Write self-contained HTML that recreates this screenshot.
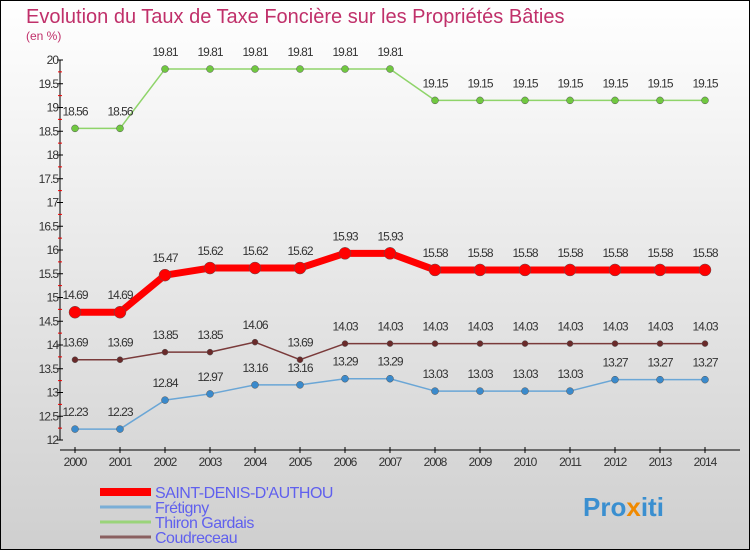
<!DOCTYPE html>
<html><head><meta charset="utf-8"><style>
body{margin:0}
svg{display:block;font-family:"Liberation Sans",sans-serif}
</style></head><body>
<svg width="750" height="550">
<defs><linearGradient id="bg" x1="0" y1="0" x2="0" y2="1"><stop offset="0" stop-color="#ffffff"/><stop offset="1" stop-color="#cfcfcf"/></linearGradient></defs>
<rect x="0.5" y="0.5" width="749" height="549" fill="url(#bg)" stroke="#000"/>
<text x="26" y="23" font-size="20" fill="#c0306a">Evolution du Taux de Taxe Foncière sur les Propriétés Bâties</text>
<text x="26" y="40" font-size="12" fill="#c0306a">(en %)</text>
<g id="axes"></g>
<g id="series"></g>
<g id="legend"></g>
<text x="583" y="516" font-size="26" font-weight="bold" fill="#3a8fd0">Pro<tspan fill="#f08a00">x</tspan>iti</text>
</svg>
<script>
const years=[2000,2001,2002,2003,2004,2005,2006,2007,2008,2009,2010,2011,2012,2013,2014];
const saint=[14.69,14.69,15.47,15.62,15.62,15.62,15.93,15.93,15.58,15.58,15.58,15.58,15.58,15.58,15.58];
const fretigny=[12.23,12.23,12.84,12.97,13.16,13.16,13.29,13.29,13.03,13.03,13.03,13.03,13.27,13.27,13.27];
const thiron=[18.56,18.56,19.81,19.81,19.81,19.81,19.81,19.81,19.15,19.15,19.15,19.15,19.15,19.15,19.15];
const coud=[13.69,13.69,13.85,13.85,14.06,13.69,14.03,14.03,14.03,14.03,14.03,14.03,14.03,14.03,14.03];
const yTicks=[12,12.5,13,13.5,14,14.5,15,15.5,16,16.5,17,17.5,18,18.5,19,19.5,20];
const NS="http://www.w3.org/2000/svg";
const X=i=>75+i*45, Y=v=>440-(v-12)*47.5;
function mk(t,a,p){const e=document.createElementNS(NS,t);for(const k in a)e.setAttribute(k,a[k]);p.appendChild(e);return e;}
const ax=document.getElementById('axes');
let l=mk('line',{x1:60,y1:60,x2:60,y2:440,stroke:'#000'},ax);

l=mk('line',{x1:60,y1:450,x2:740,y2:450,stroke:'#000'},ax);

yTicks.forEach(v=>{
 mk('line',{x1:57,x2:63,y1:Y(v),y2:Y(v),stroke:'#000'},ax);
 if(v<20)mk('line',{x1:58,x2:62,y1:Y(v+0.25),y2:Y(v+0.25),stroke:'#e00'},ax);
 const t=mk('text',{x:58,y:Y(v)+4,'text-anchor':'end','font-size':12,fill:'#333','letter-spacing':'-1'},ax);
 t.textContent=String(v);
 
});
years.forEach((y,i)=>{
 mk('line',{x1:X(i),x2:X(i),y1:447,y2:453,stroke:'#000'},ax);
 const t=mk('text',{x:X(i),y:466,'text-anchor':'middle','font-size':12,fill:'#333','letter-spacing':'-1'},ax);
 t.textContent=y;
 
});
const sg=document.getElementById('series');
function draw(data,color,w,r,name,fill){
 const g=mk('g',{},sg);
 
 mk('polyline',{points:data.map((v,i)=>X(i)+','+Y(v)).join(' '),fill:'none',stroke:color,'stroke-width':w,'stroke-linejoin':'round'},g);
 data.forEach((v,i)=>{
  const c=mk('circle',{cx:X(i),cy:Y(v),r:r,fill:fill,stroke:'#555','stroke-width':0.5},g);
  
  const t=mk('text',{x:X(i),y:Y(v)-13,'text-anchor':'middle','font-size':12,fill:'#333','letter-spacing':'-1'},g);
  t.textContent=v.toFixed(2).replace(/0$/,'');
  
 });
}
draw(thiron,'#8fd46a',1.5,3.5,'series-thiron-gardais','#70c840');
draw(saint,'#f00',7,6,'series-saint-denis','#f00');
draw(coud,'#7a3a3a',1.5,3,'series-coudreceau','#6a2a2a');
draw(fretigny,'#6aa6d6',1.5,3.5,'series-fretigny','#3a8acc');
const lg=document.getElementById('legend');
[['SAINT-DENIS-D\'AUTHOU','#f00',8,492],['Frétigny','#7aaed6',3,507],['Thiron Gardais','#9ad47a',3,522],['Coudreceau','#8a6060',3,537]].forEach(e=>{
 const g=mk('g',{},lg);
 
 mk('line',{x1:100,x2:151,y1:e[3],y2:e[3],stroke:e[1],'stroke-width':e[2]},g);
 const t=mk('text',{x:155,y:e[3]+6,'font-size':16,fill:'#6060ee','letter-spacing':'-0.5'},g);
 t.textContent=e[0];
});
</script>
</body></html>
